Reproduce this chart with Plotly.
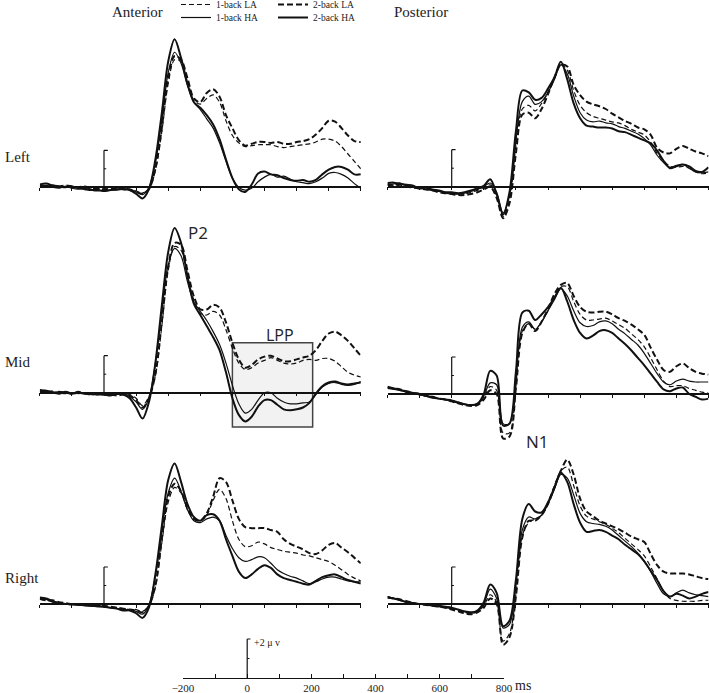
import plotly.graph_objects as go

W, H = 709, 693

# ---------------- data (µV, sampled every 20 ms) ----------------
TIME_MS = list(range(-200, 801, 20))
CONDITIONS = ["1-back LA", "1-back HA", "2-back LA", "2-back HA"]

ANT_LEFT_1LA = [0.0,0.05,0.05,0.0,0.05,0.0,-0.05,0.0,-0.1,-0.1, -0.05, -0.05,-0.1,-0.05,-0.1,-0.2,-0.3,-0.1,0.9,3.0, 5.6,6.9,6.8,5.8,4.7,4.5,4.8,5.0,4.6,3.6, 2.8,2.4,2.2,2.25,2.3,2.3,2.3,2.2,2.15,2.2, 2.25,2.3,2.35,2.45,2.6,2.6,2.5,2.2,1.8,1.4, 1.0]
ANT_LEFT_1HA = [0.05,0.1,0.0,-0.05,0.05,-0.05,-0.1,-0.05,-0.15,-0.2, -0.15, -0.15,-0.15,-0.1,-0.1,-0.25,-0.4,0.0,1.3,3.6, 6.2,7.3,6.7,5.5,4.6,4.2,3.7,3.2,2.4,1.4, 0.5,0.0,-0.15,-0.05,0.3,0.55,0.7,0.55,0.6,0.45, 0.3,0.25,0.2,0.3,0.5,0.75,0.8,0.7,0.5,0.2, -0.05]
ANT_LEFT_2LA = [0.1,0.05,0.1,0.05,0.1,0.05,0.0,0.05,-0.05,-0.05, -0.1, -0.1,-0.05,-0.1,-0.15,-0.25,-0.35,-0.1,1.0,3.2, 5.9,7.1,6.9,5.9,4.8,4.6,5.1,5.3,4.9,3.9, 3.2,2.55,2.25,2.35,2.45,2.45,2.4,2.45,2.35,2.35, 2.45,2.5,2.6,2.85,3.2,3.6,3.55,3.2,2.8,2.5, 2.45]
ANT_LEFT_2HA = [0.15,0.2,0.1,0.05,0.0,0.05,-0.05,-0.1,-0.15,-0.15, -0.2, -0.15,-0.1,-0.1,-0.15,-0.35,-0.6,-0.1,1.5,4.0, 6.8,8.0,7.0,5.6,4.6,4.3,3.9,3.4,2.6,1.5, 0.5,-0.1,-0.25,0.15,0.75,0.85,0.7,0.65,0.5,0.4, 0.35,0.4,0.3,0.4,0.7,0.95,1.1,1.1,0.95,0.7, 0.7]

POST_LEFT_1LA = [0.15,0.1,0.15,0.05,0.0,-0.05,-0.1,-0.2,-0.25,-0.3, -0.35, -0.4,-0.4,-0.3,-0.2,-0.05,0.1,-0.5,-1.6,-0.7, 2.2,4.2,4.4,4.1,4.5,5.1,5.9,6.6,6.3,5.2, 4.4,4.0,3.8,3.7,3.6,3.5,3.45,3.3,3.1,2.95, 2.8,2.4,1.8,1.4,1.1,1.05,1.1,1.0,0.8,0.7, 0.75]
POST_LEFT_1HA = [0.1,0.15,0.2,0.05,0.0,-0.05,-0.15,-0.2,-0.25,-0.35, -0.4, -0.4,-0.35,-0.25,-0.15,0.0,0.2,-0.3,-1.4,-0.5, 2.5,4.6,4.9,4.45,4.6,5.1,5.8,6.6,6.1,4.9, 4.0,3.6,3.5,3.55,3.45,3.4,3.25,3.15,3.0,2.85, 2.6,2.25,1.7,1.3,1.05,1.15,1.2,1.0,0.8,0.75, 0.8]
POST_LEFT_2LA = [0.1,0.05,0.1,0.0,-0.05,-0.1,-0.15,-0.2,-0.3,-0.35, -0.4, -0.45,-0.45,-0.4,-0.3,-0.15,0.0,-0.6,-1.7,-0.9, 1.8,3.9,4.0,3.7,4.2,5.0,5.9,6.6,6.5,5.5, 4.95,4.6,4.45,4.35,4.2,3.95,3.75,3.55,3.4,3.2, 3.1,2.8,2.1,1.85,1.8,2.05,2.2,2.05,1.9,1.8, 1.65]
POST_LEFT_2HA = [0.2,0.22,0.15,0.1,0.05,-0.1,-0.05,-0.15,-0.2,-0.3, -0.3, -0.35,-0.3,-0.2,-0.1,0.05,0.4,-0.4,-1.5,-0.3, 3.0,5.2,5.1,4.7,4.8,5.3,5.9,6.75,5.8,4.5, 3.7,3.3,3.25,3.2,3.2,3.15,3.0,2.95,2.8,2.65, 2.5,2.35,1.95,1.4,1.0,1.1,1.2,1.1,0.85,0.8, 1.05]

ANT_MID_1LA = [0.0,0.05,0.1,0.0,0.05,0.0,-0.05,0.0,-0.05,-0.1, -0.05, -0.15,-0.1,-0.05,-0.1,-0.3,-0.7,-0.2,0.9,3.6, 6.6,7.9,7.7,6.3,5.0,4.3,4.2,4.4,4.2,3.4, 2.4,1.6,1.25,1.35,1.6,1.75,1.9,1.75,1.6,1.55, 1.6,1.75,1.8,1.75,1.85,1.85,1.7,1.4,1.1,0.95, 0.85]
ANT_MID_1HA = [0.1,0.05,0.05,0.0,-0.05,0.0,-0.05,0.0,-0.1,-0.1, -0.05, -0.1,-0.1,-0.05,-0.2,-0.5,-0.9,-0.3,1.6,4.4, 6.9,7.8,7.4,6.0,4.9,4.4,3.9,3.3,2.6,1.6, 0.4,-0.6,-1.1,-0.9,-0.4,0.0,0.0,-0.3,-0.5,-0.6, -0.6,-0.55,-0.5,-0.1,0.3,0.5,0.55,0.45,0.4,0.45, 0.6]
ANT_MID_2LA = [0.05,0.1,0.0,0.05,0.0,-0.05,0.05,-0.05,-0.1,-0.05, -0.1, -0.1,-0.15,-0.1,-0.15,-0.4,-0.8,-0.3,1.0,3.8, 6.8,8.1,8.0,6.6,5.2,4.5,4.5,4.75,4.6,3.8, 2.7,1.8,1.35,1.5,1.8,1.95,2.0,1.85,1.7,1.7, 1.8,1.9,2.0,2.3,2.8,3.2,3.3,3.1,2.8,2.4, 2.0]
ANT_MID_2HA = [0.15,0.1,0.0,-0.05,0.05,-0.05,0.0,-0.05,-0.05,-0.1, -0.1, -0.15,-0.05,-0.1,-0.3,-0.8,-1.4,-0.5,1.6,4.7, 7.6,8.9,8.1,6.3,4.8,4.2,3.6,3.0,2.3,1.1, -0.3,-1.2,-1.55,-1.3,-0.75,-0.4,-0.4,-0.65,-0.9,-0.95, -0.9,-0.8,-0.55,-0.05,0.35,0.55,0.6,0.5,0.45,0.5, 0.55]

POST_MID_1LA = [0.35,0.3,0.2,0.1,0.0,-0.05,-0.1,-0.2,-0.25,-0.3, -0.35, -0.45,-0.55,-0.6,-0.55,-0.2,0.4,0.2,-2.1,-2.1, 0.4,3.4,3.8,3.5,3.9,4.5,5.2,5.8,5.8,5.0, 4.3,4.0,4.0,4.05,4.1,3.95,3.75,3.55,3.25,2.95, 2.55,1.95,1.3,0.7,0.4,0.45,0.45,0.3,0.2,0.1, 0.05]
POST_MID_1HA = [0.3,0.25,0.2,0.1,0.05,-0.05,-0.1,-0.15,-0.25,-0.3, -0.4, -0.5,-0.55,-0.6,-0.5,-0.1,0.6,0.5,-1.6,-1.6, 0.7,3.6,3.9,3.5,3.9,4.5,5.1,5.7,5.3,4.5, 3.85,3.65,3.7,3.9,3.95,3.8,3.5,3.25,2.95,2.65, 2.2,1.65,1.1,0.65,0.5,0.7,0.8,0.7,0.65,0.65, 0.65]
POST_MID_2LA = [0.4,0.3,0.25,0.1,0.05,0.0,-0.1,-0.15,-0.25,-0.3, -0.4, -0.5,-0.6,-0.65,-0.6,-0.3,0.2,0.0,-2.4,-2.3, 0.3,3.3,3.8,3.4,3.9,4.6,5.4,5.9,6.0,5.3, 4.7,4.45,4.4,4.45,4.45,4.3,4.1,3.95,3.75,3.5, 3.2,2.5,1.85,1.3,1.2,1.5,1.65,1.4,1.2,1.1, 1.05]
POST_MID_2HA = [0.35,0.3,0.2,0.15,0.05,0.0,-0.1,-0.2,-0.25,-0.3, -0.35, -0.45,-0.55,-0.6,-0.55,0.0,1.25,1.0,-1.7,-1.6, 1.2,4.4,4.5,4.0,4.3,4.7,5.2,5.75,5.0,4.0, 3.3,3.0,3.15,3.4,3.45,3.3,3.0,2.7,2.35,1.95, 1.55,1.1,0.65,0.25,0.15,0.3,0.35,0.0,-0.15,-0.3, -0.25]

ANT_RIGHT_1LA = [0.25,0.2,0.15,0.05,0.0,0.0,-0.05,-0.05,-0.1,-0.1, -0.15, -0.15,-0.2,-0.25,-0.3,-0.3,-0.4,-0.1,0.9,3.3, 5.5,6.3,6.0,5.1,4.6,4.5,4.8,5.6,6.2,5.7, 4.5,3.5,3.1,3.15,3.35,3.25,3.05,2.95,2.85,2.8, 2.75,2.65,2.6,2.5,2.4,2.3,2.1,1.85,1.6,1.4, 1.25]
ANT_RIGHT_1HA = [0.3,0.25,0.1,0.05,0.0,-0.05,-0.05,-0.1,-0.1,-0.15, -0.15, -0.2,-0.25,-0.3,-0.3,-0.4,-0.55,-0.05,1.5,3.9, 6.0,6.8,6.1,5.1,4.5,4.4,4.6,4.7,4.5,3.7, 3.0,2.5,2.3,2.4,2.55,2.5,2.2,1.85,1.65,1.5, 1.4,1.25,1.1,1.2,1.35,1.45,1.45,1.35,1.25,1.2, 1.2]
ANT_RIGHT_2LA = [0.3,0.2,0.2,0.1,0.05,0.0,0.0,-0.05,-0.05,-0.1, -0.1, -0.15,-0.2,-0.25,-0.3,-0.35,-0.45,-0.1,1.0,3.5, 5.8,6.5,6.1,5.2,4.6,4.5,4.9,5.8,6.8,6.6, 5.6,4.6,4.15,4.1,4.1,4.1,4.0,3.9,3.5,3.25, 3.1,2.95,2.75,2.7,2.9,3.2,3.3,3.05,2.8,2.5, 2.2]
ANT_RIGHT_2HA = [0.35,0.3,0.15,0.05,0.0,0.0,-0.05,-0.05,-0.1,-0.1, -0.15, -0.2,-0.25,-0.35,-0.35,-0.5,-0.75,-0.2,1.6,4.2, 6.7,7.6,6.6,5.4,4.7,4.5,4.8,4.85,4.5,3.5, 2.6,1.75,1.4,1.6,1.9,2.1,1.95,1.6,1.4,1.3, 1.2,1.1,1.05,1.25,1.45,1.55,1.6,1.45,1.3,1.2, 1.1]

POST_RIGHT_1LA = [0.4,0.3,0.2,0.1,0.05,0.0,-0.05,-0.1,-0.15,-0.2, -0.25, -0.35,-0.45,-0.5,-0.4,-0.1,0.5,0.1,-2.0,-1.6, 0.5,3.7,4.4,4.6,4.8,5.5,6.4,7.2,7.4,6.4, 5.3,4.75,4.6,4.45,4.3,4.1,3.85,3.55,3.25,2.95, 2.6,2.0,1.35,0.7,0.3,0.2,0.15,0.15,0.15,0.2, 0.2]
POST_RIGHT_1HA = [0.4,0.3,0.2,0.1,0.05,0.0,-0.05,-0.1,-0.15,-0.2, -0.25, -0.3,-0.4,-0.5,-0.4,0.0,0.8,0.3,-1.3,-1.1, 1.0,4.0,4.7,4.6,4.8,5.4,6.2,7.0,6.8,5.9, 4.9,4.45,4.35,4.3,4.2,4.0,3.7,3.4,3.1,2.75, 2.3,1.75,1.1,0.55,0.4,0.6,0.75,0.6,0.5,0.45, 0.4]
POST_RIGHT_2LA = [0.35,0.3,0.25,0.15,0.05,0.0,-0.05,-0.1,-0.15,-0.2, -0.3, -0.4,-0.5,-0.55,-0.45,-0.2,0.3,0.0,-2.2,-1.8, 0.4,3.6,4.5,4.5,4.8,5.4,6.3,7.2,7.8,7.0, 5.7,5.0,4.75,4.5,4.35,4.2,4.05,3.85,3.65,3.5, 3.35,2.7,2.1,1.75,1.65,1.65,1.65,1.6,1.5,1.4, 1.35]
POST_RIGHT_2HA = [0.35,0.3,0.2,0.1,0.05,0.0,0.0,-0.05,-0.1,-0.15, -0.2, -0.3,-0.4,-0.45,-0.35,0.1,1.05,0.6,-1.2,-0.9, 1.3,4.6,5.4,5.0,4.95,5.5,6.3,7.1,6.6,5.4, 4.4,3.9,3.95,4.0,3.9,3.7,3.5,3.2,2.95,2.7, 2.3,1.8,1.3,0.7,0.4,0.55,0.45,0.3,0.4,0.55, 0.65]

SCALE_TICKS_MS = list(range(-200, 801, 100))
SCALE_LABELS = ["\u2212200", "", "0", "", "200", "", "400", "", "600", "", "800"]
SCALE_UV = 2
LPP_WINDOW_MS = (400, 650)
LPP_BOX_UV = (-1.85, 2.7)

# ---------------- geometry ----------------
PX_PER_UV = 18.5
PX_PER_MS = 0.321
Y_RANGE = (-3.0, 9.5)
COL_X0 = {"Anterior": 39.8, "Posterior": 387.5}

PANELS = [
    ("Anterior", 187.3, [ANT_LEFT_1LA, ANT_LEFT_1HA, ANT_LEFT_2LA, ANT_LEFT_2HA]),
    ("Posterior", 186.7, [POST_LEFT_1LA, POST_LEFT_1HA, POST_LEFT_2LA, POST_LEFT_2HA]),
    ("Anterior", 392.7, [ANT_MID_1LA, ANT_MID_1HA, ANT_MID_2LA, ANT_MID_2HA]),
    ("Posterior", 394.0, [POST_MID_1LA, POST_MID_1HA, POST_MID_2LA, POST_MID_2HA]),
    ("Anterior", 604.0, [ANT_RIGHT_1LA, ANT_RIGHT_1HA, ANT_RIGHT_2LA, ANT_RIGHT_2HA]),
    ("Posterior", 604.0, [POST_RIGHT_1LA, POST_RIGHT_1HA, POST_RIGHT_2LA, POST_RIGHT_2HA]),
]

STYLE = {
    "1-back LA": dict(width=1.2, dash="5px,3px"),
    "1-back HA": dict(width=1.2, dash="solid"),
    "2-back LA": dict(width=2.0, dash="6px,3px"),
    "2-back HA": dict(width=2.0, dash="solid"),
}
# one small legend per condition so the 2x2 key can be placed exactly
LEGEND_POS = {  # legend id, left px, item centre px
    "1-back LA": ("legend", 176, 5),
    "1-back HA": ("legend2", 176, 18),
    "2-back LA": ("legend3", 273, 5),
    "2-back HA": ("legend4", 273, 18),
}
INK = "#111111"

fig = go.Figure()
layout = dict(
    template="none",
    width=W, height=H, margin=dict(l=0, r=0, t=0, b=0, pad=0, autoexpand=False),
    paper_bgcolor="white", plot_bgcolor="rgba(0,0,0,0)",
    showlegend=True,
)
shapes = []
annotations = []

for i, (col, base, series) in enumerate(PANELS, start=1):
    x0 = COL_X0[col]
    x1 = x0 + 1000 * PX_PER_MS
    top_px = base - Y_RANGE[1] * PX_PER_UV
    bot_px = base - Y_RANGE[0] * PX_PER_UV
    xs = "" if i == 1 else str(i)
    layout["xaxis" + xs] = dict(
        domain=[x0 / W, x1 / W], range=[-200, 800], anchor="free",
        position=1 - base / H, showline=True, linecolor=INK, linewidth=1.5,
        ticks="outside", ticklen=3, tickwidth=1, tickcolor=INK,
        tickvals=SCALE_TICKS_MS, showticklabels=False, showgrid=False,
        zeroline=False, fixedrange=True, automargin=False,
    )
    layout["yaxis" + xs] = dict(
        domain=[1 - bot_px / H, 1 - top_px / H], range=list(Y_RANGE),
        anchor="x" + xs, visible=False, showgrid=False, zeroline=False,
        fixedrange=True, automargin=False,
    )
    for cond, vals in zip(CONDITIONS, series):
        if len(vals) != len(TIME_MS):
            print("length mismatch", col, i, cond, len(vals))
        st = STYLE[cond]
        fig.add_trace(go.Scatter(
            x=TIME_MS, y=vals, mode="lines", name=cond,
            line=dict(color=INK, width=st["width"], dash=st["dash"],
                      shape="spline", smoothing=0.9),
            xaxis="x" + xs, yaxis="y" + xs,
            showlegend=(i == 1), legend=LEGEND_POS[cond][0],
            hoverinfo="skip",
        ))
    # +2 µV calibration bar at stimulus onset
    ref = dict(xref="x" + xs, yref="y" + xs, layer="above")
    shapes.append(dict(type="line", x0=0, x1=0, y0=0, y1=SCALE_UV,
                       line=dict(color=INK, width=1.2), **ref))
    shapes.append(dict(type="line", x0=0, x1=12, y0=SCALE_UV, y1=SCALE_UV,
                       line=dict(color=INK, width=1.2), **ref))
    shapes.append(dict(type="line", x0=0, x1=7, y0=SCALE_UV / 2, y1=SCALE_UV / 2,
                       line=dict(color=INK, width=1), **ref))

# LPP window in the anterior-mid panel
shapes.append(dict(type="rect", xref="x3", yref="y3",
                   x0=LPP_WINDOW_MS[0], x1=LPP_WINDOW_MS[1],
                   y0=LPP_BOX_UV[0], y1=LPP_BOX_UV[1],
                   fillcolor="#f2f2f2", line=dict(color="#444444", width=1.5),
                   layer="below"))

# bottom time / amplitude scale
S_PX = 39 / SCALE_UV
S_BASE = 678
S_X0 = 183
layout["xaxis7"] = dict(
    domain=[S_X0 / W, (S_X0 + 1000 * PX_PER_MS) / W], range=[-200, 800],
    anchor="free", position=1 - S_BASE / H, showline=True, linecolor=INK,
    linewidth=1.2, ticks="inside", ticklen=4, tickcolor=INK, tickwidth=1,
    tickvals=SCALE_TICKS_MS, ticktext=SCALE_LABELS, showgrid=False,
    zeroline=False, fixedrange=True, automargin=False,
    tickfont=dict(family="Liberation Serif", size=11, color="#222"),
)
layout["yaxis7"] = dict(
    domain=[1 - (S_BASE + 0.3 * S_PX) / H, 1 - (S_BASE - 2.3 * S_PX) / H],
    range=[-0.3, 2.3], anchor="x7", visible=False, fixedrange=True,
    automargin=False,
)
fig.add_trace(go.Scatter(x=[], y=[], xaxis="x7", yaxis="y7",
                         showlegend=False, hoverinfo="skip"))
ref7 = dict(xref="x7", yref="y7", layer="above")
shapes.append(dict(type="line", x0=0, x1=0, y0=0, y1=SCALE_UV,
                   line=dict(color=INK, width=1.2), **ref7))
shapes.append(dict(type="line", x0=0, x1=10, y0=SCALE_UV, y1=SCALE_UV,
                   line=dict(color=INK, width=1.2), **ref7))
shapes.append(dict(type="line", x0=0, x1=7, y0=SCALE_UV / 2, y1=SCALE_UV / 2,
                   line=dict(color=INK, width=1), **ref7))
annotations.append(dict(xref="x7", yref="y7", x=14, y=SCALE_UV, text="+2 \u03bc v",
                        showarrow=False, xanchor="left", yanchor="top", yshift=4,
                        font=dict(family="Liberation Serif", size=10, color="#222")))


def paper_text(text, px, py, size, family="Liberation Serif", xanchor="center"):
    annotations.append(dict(xref="paper", yref="paper", x=px / W, y=1 - py / H,
                            text=text, showarrow=False, xanchor=xanchor,
                            yanchor="middle",
                            font=dict(family=family, size=size, color="#222")))


paper_text("ms", 513, 685, 14, xanchor="left")
paper_text("Anterior", 137, 12, 15)
paper_text("Posterior", 421, 12, 15)
paper_text("Left", 3, 157, 15, xanchor="left")
paper_text("Mid", 3, 362, 15, xanchor="left")
paper_text("Right", 3, 578, 15, xanchor="left")
paper_text("P2", 198, 233, 17, family="Open Sans")
paper_text("LPP", 280, 335, 16, family="Open Sans")
paper_text("N1", 537, 441, 17, family="Open Sans")

LEGEND_ITEM_OFFSET = 15  # px from legend top to its single item's centre
for cond, (lid, left, centre) in LEGEND_POS.items():
    layout[lid] = dict(
        x=left / W, y=1 - (centre - LEGEND_ITEM_OFFSET) / H,
        xanchor="left", yanchor="top", bgcolor="rgba(0,0,0,0)",
        borderwidth=0, itemwidth=30,
        font=dict(family="Liberation Serif", size=9.5, color="#222"),
    )
layout["shapes"] = shapes
layout["annotations"] = annotations
fig.update_layout(**layout)

fig.write_html("out.html", config={"displayModeBar": False},
               post_script="document.body.style.margin='0px';")
